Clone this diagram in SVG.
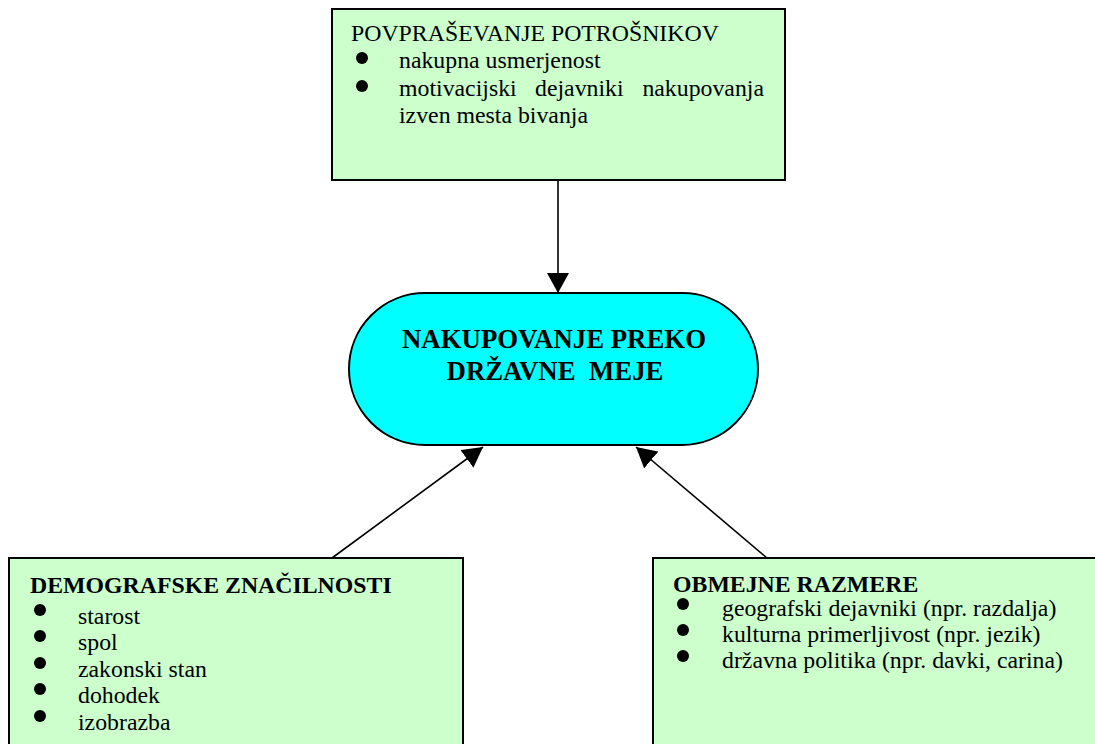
<svg xmlns="http://www.w3.org/2000/svg" width="1095" height="744" viewBox="0 0 1095 744">
<style>
.box{fill:#CCFFCC;stroke:#000;stroke-width:2}
.t{font-family:"Liberation Serif","Times New Roman",serif;font-size:23.8px;fill:#000}
.b{font-weight:bold}
.c{font-family:"Liberation Serif","Times New Roman",serif;font-size:26.8px;font-weight:bold;fill:#000;text-anchor:middle;white-space:pre}
.edge{stroke:#000;stroke-width:1.6;fill:none}
</style>
<defs>
<marker id="ah" viewBox="0 0 20 22" refX="20" refY="11" markerWidth="20" markerHeight="22" markerUnits="userSpaceOnUse" orient="auto">
<path d="M0,0 L20,11 L0,22 Z" fill="#000"/>
</marker>
</defs>
<rect width="1095" height="744" fill="#fff"/>
<g id="connectors">
<line class="edge" x1="558" y1="180" x2="558" y2="293" marker-end="url(#ah)"/>
<line class="edge" x1="332" y1="558" x2="483" y2="447" marker-end="url(#ah)"/>
<line class="edge" x1="767" y1="558" x2="636" y2="447" marker-end="url(#ah)"/>
</g>
<g id="node-povprasevanje">
<rect class="box" x="332" y="9" width="453" height="171"/>
<text class="t" x="351" y="41">POVPRAŠEVANJE POTROŠNIKOV</text>
<circle cx="362" cy="58" r="6"/>
<circle cx="362" cy="86" r="6"/>
<text class="t" x="399" y="68">nakupna usmerjenost</text>
<text class="t" x="399" y="96">motivacijski</text>
<text class="t" x="535" y="96">dejavniki</text>
<text class="t" x="764" y="96" text-anchor="end">nakupovanja</text>
<text class="t" x="399" y="123">izven mesta bivanja</text>
</g>
<g id="node-nakupovanje">
<rect x="349" y="293" width="409" height="152" rx="76" ry="76" fill="#00FFFF" stroke="#000" stroke-width="2"/>
<text class="c" x="554" y="348">NAKUPOVANJE PREKO</text>
<text class="c" x="555" y="380">DRŽAVNE  MEJE</text>
</g>
<g id="node-demografske">
<rect class="box" x="9" y="558" width="454" height="200"/>
<text class="t b" x="30" y="593">DEMOGRAFSKE ZNAČILNOSTI</text>
<circle cx="40" cy="610" r="6"/>
<circle cx="40" cy="636" r="6"/>
<circle cx="40" cy="663" r="6"/>
<circle cx="40" cy="689" r="6"/>
<circle cx="40" cy="716" r="6"/>
<text class="t" x="78" y="624">starost</text>
<text class="t" x="78" y="650">spol</text>
<text class="t" x="78" y="677">zakonski stan</text>
<text class="t" x="78" y="703">dohodek</text>
<text class="t" x="78" y="730">izobrazba</text>
</g>
<g id="node-obmejne">
<rect class="box" x="653" y="558" width="460" height="200"/>
<text class="t b" x="673" y="592">OBMEJNE RAZMERE</text>
<circle cx="683" cy="604" r="6"/>
<circle cx="683" cy="630" r="6"/>
<circle cx="683" cy="656" r="6"/>
<text class="t" x="722" y="616">geografski dejavniki (npr. razdalja)</text>
<text class="t" x="722" y="642">kulturna primerljivost (npr. jezik)</text>
<text class="t" x="722" y="668">državna politika (npr. davki, carina)</text>
</g>
</svg>
